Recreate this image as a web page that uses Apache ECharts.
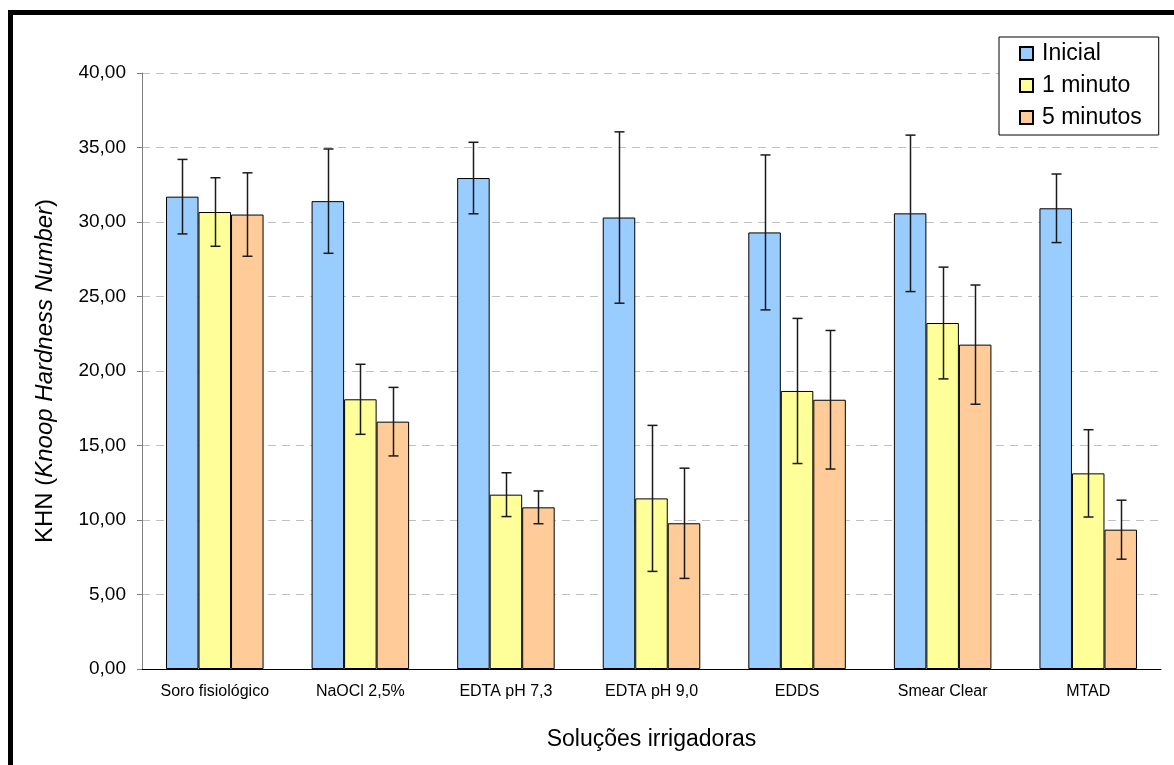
<!DOCTYPE html>
<html>
<head>
<meta charset="utf-8">
<script src="https://cdn.jsdelivr.net/npm/echarts@6/dist/echarts.min.js"></script>
<style>
    html, body { margin: 0; padding: 0; background: #fff; }
    #biao-1 { width: 1174px; height: 765px; }
</style>
</head>
<body>
<div id="biao-1"></div>
<script>
var xAxisData = ['Soro fisiológico', 'NaOCl 2,5%', 'EDTA pH 7,3', 'EDTA pH 9,0', 'EDDS', 'Smear Clear', 'MTAD'];
var seriesNames = ['Inicial', '1 minuto', '5 minutos'];
var inicialData = [31.70, 31.40, 32.95, 30.30, 29.30, 30.58, 30.92];
var inicialErr = [2.50, 3.50, 2.40, 5.75, 5.20, 5.25, 2.30];
var umMinutoData = [30.67, 18.10, 11.70, 11.45, 18.66, 23.22, 13.13];
var umMinutoErr = [2.30, 2.35, 1.47, 4.90, 4.87, 3.75, 2.93];
var cincoMinutosData = [30.50, 16.60, 10.85, 9.78, 18.07, 21.77, 9.35];
var cincoMinutosErr = [2.80, 2.30, 1.10, 3.70, 4.65, 4.00, 1.98];

function onelist() {
    var myChart1 = echarts.init(document.getElementById('biao-1'));
    var font = 'Arial, "Liberation Sans", sans-serif';
    var colors = ['#99ccff', '#ffff99', '#ffcc99'];
    var values = [inicialData, umMinutoData, cincoMinutosData];
    var errs = [inicialErr, umMinutoErr, cincoMinutosErr];
    var groupShare = 0.67; // largura do grupo de barras (1 - barCategoryGap)

    var series = [];
    // barras
    for (var k = 0; k < 3; k++) {
        series.push({
            name: seriesNames[k],
            type: 'bar',
            data: values[k],
            barGap: '0%',
            barCategoryGap: '33%',
            itemStyle: {
                color: colors[k],
                borderColor: '#000',
                borderWidth: 1
            }
        });
    }
    // barras de erro
    for (var k = 0; k < 3; k++) {
        var errData = [];
        for (var i = 0; i < xAxisData.length; i++) {
            errData.push([i, values[k][i] - errs[k][i], values[k][i] + errs[k][i]]);
        }
        series.push({
            name: 'erro ' + seriesNames[k],
            type: 'custom',
            z: 10,
            silent: true,
            encode: { x: 0, y: [1, 2] },
            data: errData,
            renderItem: (function (pos) {
                return function (params, api) {
                    var idx = api.value(0);
                    var lo = api.coord([idx, api.value(1)]);
                    var hi = api.coord([idx, api.value(2)]);
                    var bw = api.size([1, 0])[0] * groupShare / 3;
                    var x = Math.round(lo[0] + (pos - 1) * bw) + 0.5;
                    var cap = 5;
                    var style = { stroke: '#1a1a1a', lineWidth: 1.5 };
                    return {
                        type: 'group',
                        children: [
                            { type: 'line', shape: { x1: x, y1: hi[1], x2: x, y2: lo[1] }, style: style },
                            { type: 'line', shape: { x1: x - cap, y1: hi[1], x2: x + cap, y2: hi[1] }, style: style },
                            { type: 'line', shape: { x1: x - cap, y1: lo[1], x2: x + cap, y2: lo[1] }, style: style }
                        ]
                    };
                };
            })(k)
        });
    }

    var option1 = {
        backgroundColor: '#fff',
        animation: false,
        textStyle: { fontFamily: font },
        grid: {
            left: 142,
            right: 13,
            top: 73,
            bottom: 96,
            containLabel: false
        },
        legend: {
            data: seriesNames,
            orient: 'vertical',
            left: 999,
            top: 37,
            padding: [5, 17, 6, 20],
            itemGap: 9,
            itemWidth: 13,
            itemHeight: 13,
            backgroundColor: '#fff',
            borderColor: '#000',
            borderWidth: 1,
            icon: 'rect',
            textStyle: {
                color: '#000',
                fontSize: 23,
                fontFamily: font,
                padding: [0, 0, 0, 4]
            }
        },
        graphic: [{
            type: 'rect',
            shape: { x: 10.5, y: 12.5, width: 1300, height: 900 },
            style: { fill: 'none', stroke: '#000', lineWidth: 5 },
            silent: true
        }],
        xAxis: {
            type: 'category',
            data: xAxisData,
            axisLine: { lineStyle: { color: '#000', width: 1 } },
            axisTick: { length: 5, lineStyle: { color: '#000' } },
            axisLabel: {
                color: '#000',
                fontSize: 16,
                margin: 15,
                fontFamily: font
            },
            name: 'Soluções irrigadoras',
            nameLocation: 'middle',
            nameGap: 59,
            nameTextStyle: {
                color: '#000',
                fontSize: 23,
                fontFamily: font
            }
        },
        yAxis: {
            type: 'value',
            min: 0,
            max: 40,
            interval: 5,
            axisLine: { show: true, lineStyle: { color: '#808080', width: 1 } },
            axisTick: { show: true, length: 5, lineStyle: { color: '#808080' } },
            axisLabel: {
                color: '#000',
                fontSize: 19,
                margin: 16,
                fontFamily: font,
                formatter: function (v) {
                    return v.toFixed(2).replace('.', ',');
                }
            },
            splitLine: {
                lineStyle: {
                    color: '#c0c0c0',
                    type: [8, 6],
                    width: 1
                }
            },
            name: 'KHN ({i|Knoop Hardness Number})',
            nameLocation: 'middle',
            nameGap: 85,
            nameTextStyle: {
                color: '#000',
                fontSize: 24,
                fontFamily: font,
                rich: {
                    i: { fontStyle: 'italic', fontSize: 24, color: '#000', fontFamily: font }
                }
            }
        },
        series: series
    };
    myChart1.setOption(option1);
}
onelist();
</script>
</body>
</html>
